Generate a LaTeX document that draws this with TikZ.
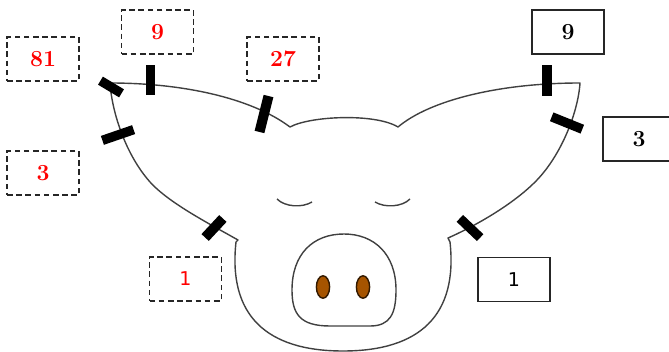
\documentclass[tikz,border=0pt]{standalone}
\usepackage{fontspec}
\newfontfamily\onefont{DejaVu Sans}
\definecolor{nosebrown}{RGB}{166,84,0}

\begin{document}
\begin{tikzpicture}[x=0.5pt,y=-0.5pt,
  box/.style={minimum width=36pt,minimum height=22pt,inner sep=0pt,line width=0.7pt,
    font=\fontsize{11.5}{12}\selectfont\bfseries},
  redbox/.style={box,draw=black!85,dash pattern=on 2.8pt off 1.8pt,text=red},
  blackbox/.style={box,draw=black!85},
  onefont/.style={font=\onefont\fontsize{9.5}{10}\selectfont},
  cut/.style={fill=black,inner sep=0pt,minimum height=4.7pt},
  outline/.style={draw=black!75,line width=0.7pt,line join=round},
  nostril/.style={fill=nosebrown,draw=black!70!nosebrown,line width=0.7pt}]
  \useasboundingbox (0,0) rectangle (669,352);

  % head and ears
  \draw[outline] (238,240) .. controls (208,223) and (169,203) .. (150,182)
    .. controls (126,155) and (112,113) .. (110,83)
    .. controls (180,83) and (250,97) .. (290,127)
    .. controls (310,116) and (375,113) .. (398,127)
    .. controls (430,100) and (500,83) .. (580,83)
    .. controls (578,113) and (561,155) .. (537,180)
    .. controls (513,205) and (473,227) .. (448,238)
    -- (450,242) .. controls (458,315) and (420,351) .. (343,351)
    .. controls (266,351) and (228,315) .. (236,242) -- cycle;

  % eyes
  \draw[outline] (277,199) .. controls (285,207) and (302,208) .. (312,202);
  \draw[outline] (375,202) .. controls (385,208) and (402,207) .. (410,199);

  % snout
  \draw[outline] (330,326) -- (370,326) .. controls (390,326) and (396,314) .. (396,290)
    .. controls (396,254) and (374,234) .. (344,234) .. controls (313,234) and (292,254) .. (292,290)
    .. controls (292,314) and (300,326) .. (330,326) -- cycle;
  \draw[nostril] (323,287) ellipse [x radius=3.3pt,y radius=5.6pt];
  \draw[nostril] (363,287) ellipse [x radius=3.3pt,y radius=5.6pt];

  % cuts
  \node[cut,minimum width=12.3pt,rotate=-31] (cutA) at (111,87) {};
  \node[cut,minimum width=15pt,rotate=90] (cutB) at (150.5,80) {};
  \node[cut,minimum width=18.5pt,minimum height=5pt,rotate=76] (cutC) at (264,114) {};
  \node[cut,minimum width=16.5pt,rotate=19] (cutD) at (118,135) {};
  \node[cut,minimum width=13pt,minimum height=5pt,rotate=47] (cutE) at (214,228) {};
  \node[cut,minimum width=15.5pt,minimum height=5pt,rotate=90] (cutF) at (547,80.5) {};
  \node[cut,minimum width=16.5pt,rotate=-22] (cutG) at (567,123) {};
  \node[cut,minimum width=14pt,rotate=-43.5] (cutH) at (470,228) {};

  % labels
  \node[redbox] (n81) at (43,59) {81};
  \node[redbox] (n9) at (157.5,32) {9};
  \node[redbox] (n27) at (283,59) {27};
  \node[redbox] (n3) at (43,173) {3};
  \node[redbox,onefont] (n1) at (185.5,279) {1};
  \node[blackbox] (m9) at (568,32) {9};
  \node[blackbox] (m3) at (639,139) {3};
  \node[blackbox,onefont] (m1) at (514,279.5) {1};
\end{tikzpicture}
\end{document}
